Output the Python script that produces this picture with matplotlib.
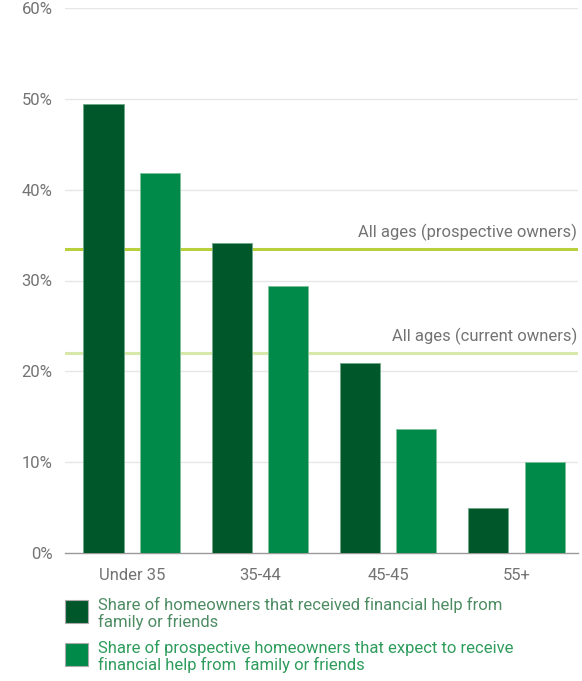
import matplotlib
matplotlib.use("Agg")
import matplotlib.pyplot as plt
import numpy as np
from matplotlib.patches import Rectangle

plt.rcParams['font.family'] = ['Roboto', 'DejaVu Sans']

# share receiving / expecting help, by age group (%)
age_groups = ["Under 35", "35-44", "45-45", "55+"]
received = [49.4, 34.1, 20.9, 5.0]
expect = [41.8, 29.4, 13.7, 10.0]
all_prospective = 33.5
all_current = 22.0
yticks = [0, 10, 20, 30, 40, 50, 60]
legend_labels = ["Share of homeowners that received financial help from\nfamily or friends",
                 "Share of prospective homeowners that expect to receive\nfinancial help from  family or friends"]

dark = "#00582a"
light = "#008a4a"
grey = "#737373"

fig = plt.figure(figsize=(5.82, 6.81), dpi=100)
ax = fig.add_axes([65/582, 128/681, 513/582, 545/681])

x = np.arange(len(age_groups))
w = 0.3125
off = 0.22
ax.bar(x - off, received, w, color=dark, edgecolor="#6fa888", linewidth=0.6, zorder=3)
ax.bar(x + off, expect, w, color=light, edgecolor="#7fc09a", linewidth=0.6, zorder=3)

# all-ages reference lines, sitting behind the bars
ax.axhline(all_prospective, color="#b7d03c", lw=2.2, zorder=2)
ax.axhline(all_current, color="#d8e8ab", lw=2.2, zorder=2)
ax.text(3.475, all_prospective + 0.9, "All ages (prospective owners)", ha="right", va="bottom",
        fontsize=12, color=grey)
ax.text(3.475, all_current + 0.9, "All ages (current owners)", ha="right", va="bottom",
        fontsize=12, color=grey)

ax.set_xlim(-0.52, 3.48)
ax.set_ylim(0, 60)
ax.set_yticks(yticks)
ax.set_yticklabels([f"{t}%" for t in yticks])
ax.set_xticks(x)
ax.set_xticklabels(age_groups)
ax.tick_params(axis="both", length=0, labelsize=12, labelcolor=grey)
ax.tick_params(axis="y", pad=9)
ax.tick_params(axis="x", pad=11)

for t in yticks[1:]:
    ax.axhline(t, color="#e6e6e6", lw=1, zorder=1)
for s in ["top", "right", "left"]:
    ax.spines[s].set_visible(False)
ax.spines["bottom"].set_color("#999999")
ax.spines["bottom"].set_linewidth(1)

# legend drawn by hand: square swatches with wrapped text
swatch_y = [600, 643]
text_colors = ["#4d8c63", "#2e9c5c"]
for yy, col, lab, tc in zip(swatch_y, [dark, light], legend_labels, text_colors):
    fig.patches.append(Rectangle((65/582, 1 - (yy + 23)/681), 23/582, 23/681,
                                 transform=fig.transFigure, facecolor=col,
                                 edgecolor="#aaaaaa", linewidth=0.8))
    fig.text(98/582, 1 - (yy - 3)/681, lab, ha="left", va="top", fontsize=12,
             color=tc, linespacing=1.08)

fig.savefig("out.png", dpi=100)
